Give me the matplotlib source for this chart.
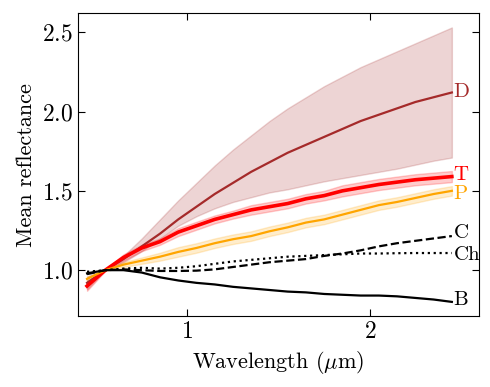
import numpy as np
import matplotlib
matplotlib.use('Agg')
from matplotlib import pyplot as plt

plt.rcParams['font.family'] = 'serif'
plt.rcParams['font.serif'] = ['cmr10']
plt.rcParams['mathtext.fontset'] = 'cm'
plt.rcParams['axes.formatter.use_mathtext'] = True

# longitudes de onda (um)
wl = [0.45, 0.55, 0.65, 0.75, 0.85, 0.95, 1.05, 1.15, 1.25, 1.35, 1.45,
      1.55, 1.65, 1.75, 1.85, 1.95, 2.05, 2.15, 2.25, 2.35, 2.45]

# tipo D
d_mean = [0.92, 1.0, 1.07, 1.15, 1.23, 1.32, 1.40, 1.48, 1.55, 1.62, 1.68,
          1.74, 1.79, 1.84, 1.89, 1.94, 1.98, 2.02, 2.06, 2.09, 2.12]
d_low = [0.88, 1.0, 1.05, 1.12, 1.20, 1.28, 1.34, 1.39, 1.43, 1.46, 1.49,
         1.51, 1.535, 1.56, 1.58, 1.60, 1.62, 1.64, 1.665, 1.69, 1.71]
d_high = [0.96, 1.0, 1.09, 1.20, 1.32, 1.44, 1.55, 1.66, 1.76, 1.85, 1.94,
          2.02, 2.09, 2.16, 2.22, 2.28, 2.33, 2.38, 2.43, 2.48, 2.53]

# tipo T
t_mean = [0.90, 1.0, 1.08, 1.14, 1.18, 1.24, 1.28, 1.32, 1.35, 1.38, 1.40,
          1.42, 1.45, 1.47, 1.50, 1.52, 1.54, 1.555, 1.57, 1.58, 1.59]
t_low = [0.87, 0.995, 1.06, 1.12, 1.16, 1.215, 1.255, 1.295, 1.325, 1.35, 1.37,
         1.39, 1.42, 1.44, 1.465, 1.485, 1.505, 1.52, 1.535, 1.545, 1.555]
t_high = [0.93, 1.005, 1.10, 1.16, 1.20, 1.265, 1.305, 1.345, 1.375, 1.41, 1.43,
          1.45, 1.48, 1.50, 1.535, 1.555, 1.575, 1.59, 1.605, 1.615, 1.625]

# tipo P
p_mean = [0.945, 1.0, 1.035, 1.06, 1.085, 1.115, 1.14, 1.17, 1.195, 1.215, 1.245,
          1.27, 1.30, 1.32, 1.35, 1.38, 1.41, 1.43, 1.455, 1.48, 1.50]
p_low = [0.93, 0.995, 1.02, 1.04, 1.06, 1.085, 1.11, 1.14, 1.165, 1.185, 1.215,
         1.24, 1.27, 1.29, 1.32, 1.35, 1.38, 1.40, 1.425, 1.45, 1.47]
p_high = [0.96, 1.005, 1.05, 1.08, 1.11, 1.145, 1.17, 1.20, 1.225, 1.245, 1.275,
          1.30, 1.33, 1.35, 1.38, 1.41, 1.44, 1.46, 1.485, 1.51, 1.53]

# tipos C, Ch, B
c_mean = [0.975, 1.0, 1.005, 1.0, 0.995, 0.995, 0.997, 1.005, 1.02, 1.035, 1.05,
          1.06, 1.07, 1.09, 1.105, 1.125, 1.15, 1.17, 1.185, 1.20, 1.215]
ch_mean = [0.99, 1.0, 1.01, 1.015, 1.01, 1.015, 1.025, 1.04, 1.055, 1.065, 1.075,
           1.085, 1.09, 1.095, 1.10, 1.105, 1.105, 1.107, 1.108, 1.108, 1.108]
b_mean = [0.98, 1.0, 1.0, 0.985, 0.955, 0.935, 0.92, 0.91, 0.895, 0.885, 0.875,
          0.865, 0.86, 0.85, 0.845, 0.84, 0.84, 0.835, 0.825, 0.815, 0.80]

labels = ['D', 'T', 'P', 'C', 'Ch', 'B']
label_y = [2.12, 1.60, 1.48, 1.235, 1.095, 0.81]
label_colors = ['brown', 'red', 'orange', 'black', 'black', 'black']

fig = plt.figure(figsize=(4.9, 3.87), dpi=100)
ax = fig.add_axes([0.159, 0.183, 0.819, 0.783])

ax.fill_between(wl, d_low, d_high, color='brown', alpha=0.2, lw=1)
ax.plot(wl, d_mean, color='brown', lw=1.6)
ax.fill_between(wl, t_low, t_high, color='red', alpha=0.2, lw=1)
ax.plot(wl, t_mean, color='red', lw=2.6)
ax.fill_between(wl, p_low, p_high, color='orange', alpha=0.2, lw=1)
ax.plot(wl, p_mean, color='orange', lw=1.6)
ax.plot(wl, c_mean, color='black', ls='--', lw=1.6)
ax.plot(wl, ch_mean, color='black', ls=':', lw=1.6)
ax.plot(wl, b_mean, color='black', lw=1.6)

for lab, y, col in zip(labels, label_y, label_colors):
    ax.text(wl[-1] + 0.01, y, lab, color=col, fontsize=15, va='center', ha='left')

ax.set_xlim(0.4, 2.6)
ax.set_ylim(0.71, 2.62)
ax.set_xticks([1, 2])
ax.set_yticks([1.0, 1.5, 2.0, 2.5])
ax.tick_params(direction='in', top=True, right=True, labelsize=17, length=5)
ax.set_xlabel(r'Wavelength ($\mu$m)', fontsize=16)
ax.set_ylabel('Mean reflectance', fontsize=16)

plt.savefig('out.png', dpi=100)
